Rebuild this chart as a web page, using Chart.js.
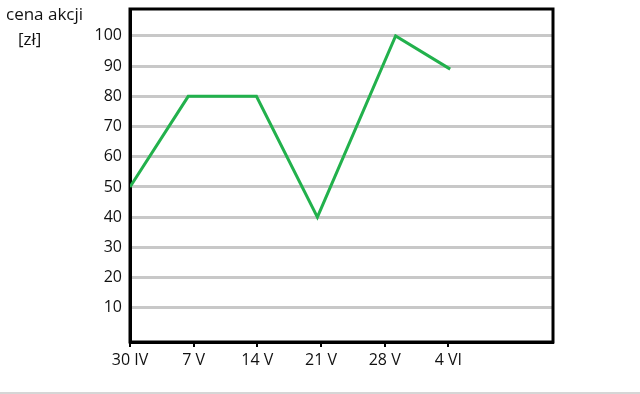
<!DOCTYPE html>
<html>
<head>
<meta charset="utf-8">
<script src="https://cdn.jsdelivr.net/npm/chart.js@4"></script>
<style>
    html, body { margin: 0; padding: 0; background: #fff; }
    .wrap { width: 640px; height: 392px; border-bottom: 2px solid #d6d6d6; }
</style>
</head>
<body>
<div class="wrap"><canvas id="priceChart" width="640" height="392"></canvas></div>
<script>
// days counted from 30 IV
const dayTicks = [0, 7, 14, 21, 28, 35];
const dayLabels = ['30 IV', '7 V', '14 V', '21 V', '28 V', '4 VI'];
const priceTicks = [10, 20, 30, 40, 50, 60, 70, 80, 90, 100];

// stock price readings
const days = [0, 6.4, 13.9, 20.6, 29.2, 35.2];
const prices = [50, 80, 80, 40, 100, 89];

const FONT = "'Open Sans', 'DejaVu Sans', sans-serif";

// black frame round the plot area
const frame = {
    id: 'frame',
    beforeDatasetsDraw(chart) {
        const { ctx, chartArea: a } = chart;
        ctx.save();
        ctx.strokeStyle = '#000';
        ctx.lineWidth = 3;
        ctx.strokeRect(a.left, a.top, a.right - a.left, a.bottom - a.top);
        ctx.restore();
    }
};

// axis caption in the top-left corner
const caption = {
    id: 'caption',
    afterDraw(chart) {
        const { ctx } = chart;
        ctx.save();
        ctx.fillStyle = '#111';
        ctx.font = '17px ' + FONT;
        ctx.textBaseline = 'alphabetic';
        ctx.fillText('cena akcji', 6, 20);
        ctx.fillText('[zł]', 18, 45);
        ctx.restore();
    }
};

new Chart(document.getElementById('priceChart'), {
    type: 'line',
    data: {
        datasets: [{
            label: 'cena akcji',
            data: days.map((d, i) => ({ x: d, y: prices[i] })),
            borderColor: 'rgb(34, 177, 76)',
            borderWidth: 3,
            pointRadius: 0,
            tension: 0,
            fill: false
        }]
    },
    options: {
        responsive: false,
        animation: false,
        layout: { padding: { top: 9, right: 87, left: 0, bottom: 0 } },
        plugins: {
            legend: { display: false },
            tooltip: { enabled: false }
        },
        scales: {
            x: {
                type: 'linear',
                min: 0,
                max: 46.5,
                afterBuildTicks: s => { s.ticks = dayTicks.map(v => ({ value: v })); },
                afterFit: s => { s.height = 50; s.paddingLeft = 0; s.paddingRight = 0; },
                ticks: {
                    callback: v => dayLabels[dayTicks.indexOf(v)],
                    color: '#111',
                    font: { family: FONT, size: 16 },
                    padding: 4,
                    maxRotation: 0,
                    autoSkip: false
                },
                grid: {
                    drawOnChartArea: false,
                    drawTicks: true,
                    tickLength: 5,
                    color: '#000',
                    lineWidth: 2
                },
                border: { color: '#000', width: 3 }
            },
            y: {
                min: -1.3,
                max: 108.9,
                afterBuildTicks: s => { s.ticks = priceTicks.map(v => ({ value: v })); },
                afterFit: s => { s.width = 130; s.paddingTop = 0; s.paddingBottom = 0; },
                ticks: {
                    color: '#111',
                    font: { family: FONT, size: 16 },
                    padding: 8
                },
                grid: {
                    color: '#c8c8c8',
                    lineWidth: 3,
                    drawTicks: false
                },
                border: { color: '#000', width: 3 }
            }
        }
    },
    plugins: [frame, caption]
});
</script>
</body>
</html>
